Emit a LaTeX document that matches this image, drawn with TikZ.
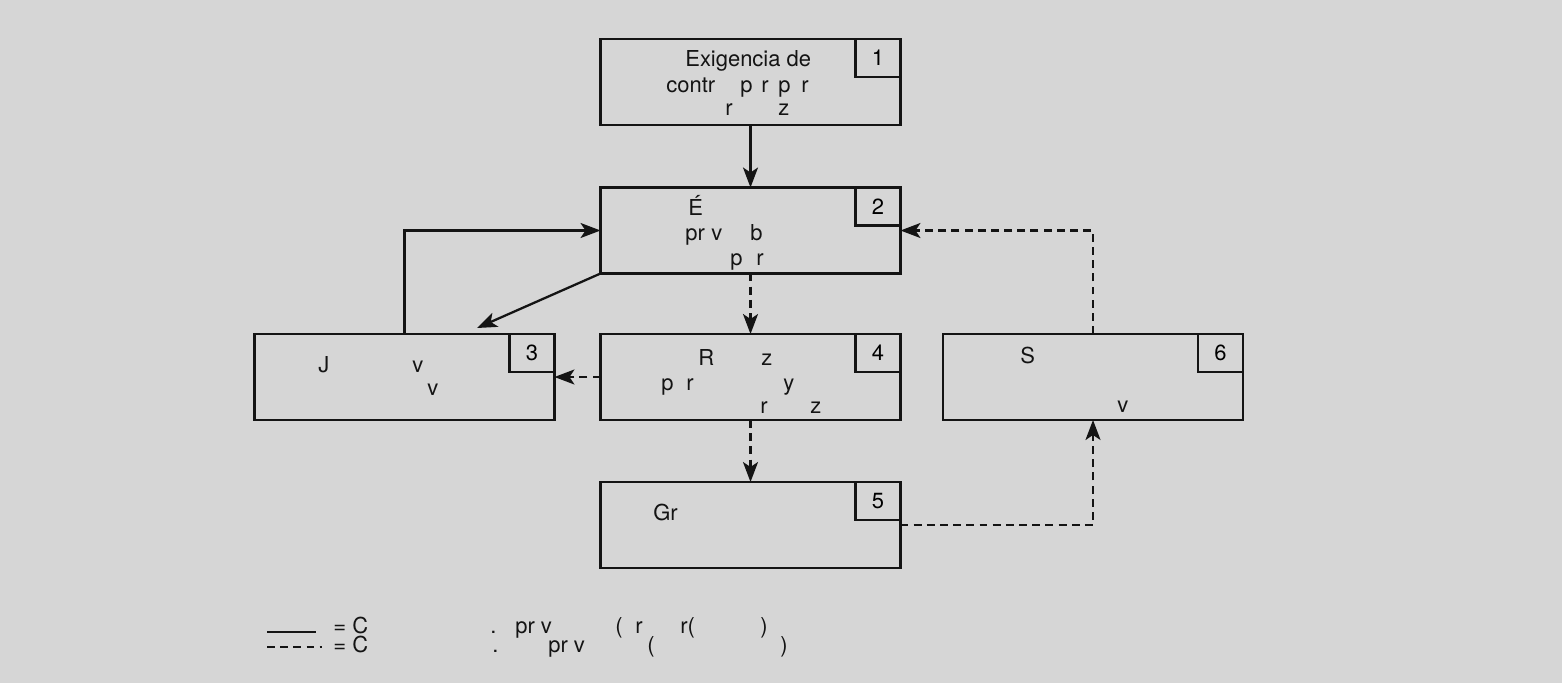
\documentclass[tikz,border=0pt]{standalone}
\usepackage{fontspec}
\setmainfont{TeX Gyre Heros}
\usepackage{tikz}
\usetikzlibrary{arrows.meta, positioning, calc}
\definecolor{paper}{RGB}{214,214,214}
\definecolor{ink}{RGB}{20,20,20}
\tikzset{
  block/.style={rectangle, draw=ink, fill=paper, line width=1.3pt,
    minimum width=6cm, minimum height=1.72cm, inner sep=0pt, outer sep=0pt},
  numbox/.style={rectangle, draw=ink, fill=paper, line width=1.3pt,
    minimum width=0.9cm, minimum height=0.76cm, inner sep=0pt, outer sep=0pt,
    anchor=north east, font=\fontsize{12.5}{14}\selectfont},
  frag/.style={anchor=base west, inner sep=0pt, font=\fontsize{12.5}{14}\selectfont, text=ink},
  arrow/.style={-{Stealth[length=4mm, width=3mm, inset=1mm]}, line width=1.3pt, color=ink},
  dasharrow/.style={arrow, dash pattern=on 4.5pt off 3pt},
  line/.style={line width=1.3pt, color=ink}
}
\begin{document}
\begin{tikzpicture}[x=0.02cm, y=-0.02cm]
  % page
  \fill[paper] (0,0) rectangle (1562,683);
  \useasboundingbox (0,0) rectangle (1562,683);

  % Blocks
  \node[block] (b1) at (750.5, 82) {};
  \node[block] (b2) at (750.5, 230.5) {};
  \node[block] (b3) at (404.5, 377) {};
  \node[block] (b4) at (750.5, 377) {};
  \node[block] (b6) at (1093, 377) {};
  \node[block] (b5) at (750.5, 525) {};

  % Numbers
  \foreach \b/\n in {b1/1, b2/2, b3/3, b4/4, b5/5, b6/6}
    \node[numbox] (n\n) at (\b.north east) {\n};

  % Texts
  \foreach \x/\y/\t [count=\i] in {
      685/66/Exigencia de, 666/92/contr, 740/92/p, 761/92/r, 778/92/p, 801/92/r,
      725/115/r, 778/115/z,
      688/215/É, 685/240/pr, 711/240/v, 750/240/b, 730/265/p, 756/265/r,
      318/372/J, 412/372/v, 427/395/v,
      698/365/R, 761/365/z, 661/390/p, 686/390/r, 783/390/y, 760/413/r, 810/413/z,
      1020/363/S, 1117/412/v,
      653/520/Gr}
    \node[frag] (f\i) at (\x,\y) {\t};

  % Connectors
  \coordinate (t3) at (477,328);
  \draw[arrow] (b1.south) -- (b2.north);
  \draw[arrow] (b3.north) |- (b2.west);
  \draw[arrow] (b2.south west) -- (t3);
  \draw[dasharrow] (b2.south) -- (b4.north);
  \draw[dasharrow] (b4.west) -- (b3.east);
  \draw[dasharrow] (b4.south) -- (b5.north);
  \draw[dasharrow] (b5.east) -| (b6.south);
  \draw[dasharrow] (b6.north) |- (b2.east);

  % Legend
  \coordinate (la) at (267,632);
  \coordinate (lb) at (316,632);
  \coordinate (lc) at (267,647);
  \coordinate (ld) at (322,647);
  \draw[line] (la) -- (lb);
  \draw[line, dash pattern=on 4.5pt off 3pt] (lc) -- (ld);
  \foreach \x/\y/\t [count=\i] in {
      333/633/= C, 490/633/., 515/633/pr v, 615/633/(, 635/633/r, 680/633/r(, 760/633/),
      333/652/= C, 492/652/., 548/652/pr v, 647/652/(, 780/652/)}
    \node[frag] (g\i) at (\x,\y) {\t};
\end{tikzpicture}
\end{document}
